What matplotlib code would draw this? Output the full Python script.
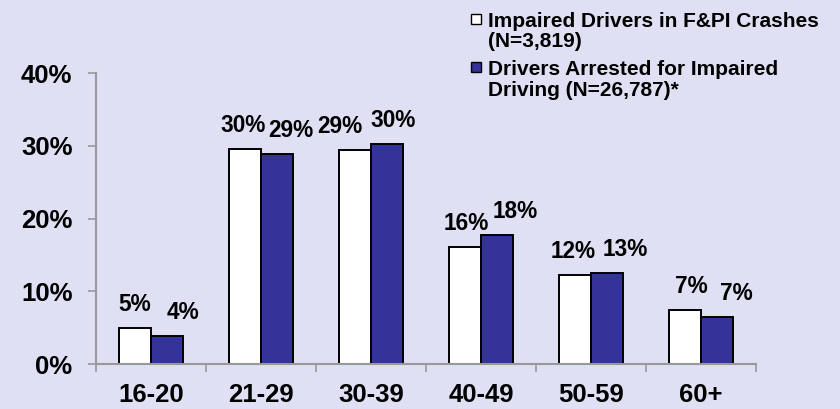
import matplotlib.pyplot as plt
import matplotlib.patches as mpatches
import numpy as np

# age groups and shares (%)
ages = ['16-20', '21-29', '30-39', '40-49', '50-59', '60+']
crash_pct = [5.0, 29.6, 29.4, 16.1, 12.2, 7.4]
arrest_pct = [3.9, 28.9, 30.3, 17.7, 12.5, 6.5]
crash_lbl = ['5%', '30%', '29%', '16%', '12%', '7%']
arrest_lbl = ['4%', '29%', '30%', '18%', '13%', '7%']
legend_lbl = ['Impaired Drivers in F&PI Crashes\n(N=3,819)',
              'Drivers Arrested for Impaired\nDriving (N=26,787)*']

# label nudges in pixels (from picture)
crash_dx = [0, -2, -15, 1, -2, 6]
arrest_dx = [16, 14, 6, 18, 18, 19]

bg = '#E0E0F4'
navy = '#333399'
axc = '#999999'
plt.rcParams['font.family'] = ['Liberation Sans', 'DejaVu Sans']
plt.rcParams['font.weight'] = 'bold'

fig = plt.figure(figsize=(8.4, 4.09), dpi=100, facecolor=bg)
ax = fig.add_axes([96/840, 1-364/409, 660/840, (364-73.3)/409], facecolor=bg)

x = np.arange(len(ages))
w = 0.29
b1 = ax.bar(x - w/2, crash_pct, w, color='white', edgecolor='black', linewidth=1.4)
b2 = ax.bar(x + w/2, arrest_pct, w, color=navy, edgecolor='black', linewidth=1.4)

px = 72/100
for i in range(len(ages)):
    ax.annotate(crash_lbl[i], (x[i] - w/2, crash_pct[i]), xytext=(crash_dx[i]*px, 17*px),
                textcoords='offset points', ha='center', va='baseline', fontsize=16.3, fontweight='bold')
    ax.annotate(arrest_lbl[i], (x[i] + w/2, arrest_pct[i]), xytext=(arrest_dx[i]*px, 17*px),
                textcoords='offset points', ha='center', va='baseline', fontsize=16.3, fontweight='bold')

ax.set_xlim(-0.5, len(ages) - 0.5)
ax.set_ylim(0, 40)
ax.set_yticks([0, 10, 20, 30, 40])
ax.set_yticklabels([f'{v}%' for v in [0, 10, 20, 30, 40]], fontsize=18.5, fontweight='bold')
ax.set_xticks(np.arange(len(ages) + 1) - 0.5)
ax.set_xticklabels([])
ax.set_xticks(x, minor=True)
ax.set_xticklabels(ages, minor=True, fontsize=18.5, fontweight='bold')
ax.tick_params(axis='x', which='minor', length=0, pad=14)
ax.tick_params(axis='x', which='major', length=6, color=axc, width=1.2)
ax.tick_params(axis='y', length=6, color=axc, width=1.2, pad=11)
for s in ['top', 'right']:
    ax.spines[s].set_visible(False)
for s in ['left', 'bottom']:
    ax.spines[s].set_color(axc)
    ax.spines[s].set_linewidth(1.5)

# legend drawn by hand, one text per line
cols = ['white', navy]
box_y = [14, 62]
base_y = [26.7, 75]
for lbl, c, by, ty in zip(legend_lbl, cols, box_y, base_y):
    fig.patches.append(mpatches.Rectangle((471/840, 1-(by+10)/409), 10/840, 10/409,
                                          facecolor=c, edgecolor='black', lw=1,
                                          transform=fig.transFigure, figure=fig))
    for k, line in enumerate(lbl.split('\n')):
        fig.text(488/840, 1-(ty + k*20.5)/409, line, ha='left', va='baseline',
                 fontsize=15, fontweight='bold')

fig.savefig('out.png', dpi=100, facecolor=bg)
